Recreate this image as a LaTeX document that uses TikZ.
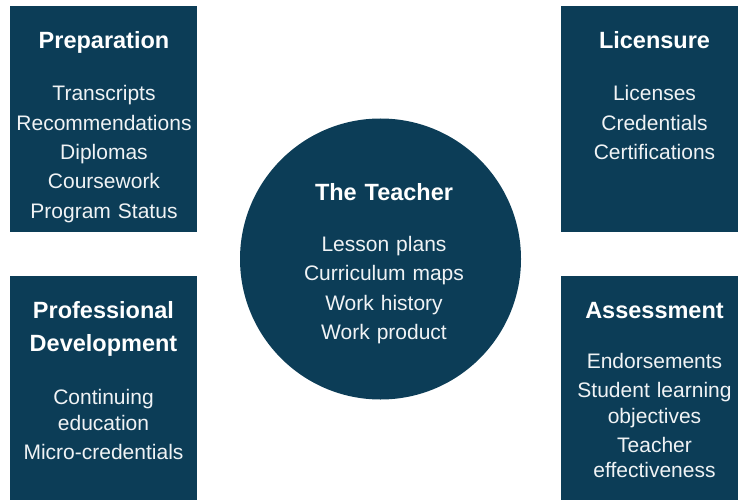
\documentclass[tikz,border=0pt]{standalone}
\usepackage{fontspec}
\setmainfont{Liberation Sans}
\definecolor{navy}{RGB}{12,61,87}

\begin{document}
\begin{tikzpicture}[x=1pt, y=1pt,
  box/.style={fill=navy, minimum width=187pt, minimum height=226pt, inner sep=0pt},
  hub/.style={circle, fill=navy, minimum size=281pt, inner sep=0pt},
  title/.style={anchor=base, text=white, text width=185pt, align=center, inner sep=0pt,
    font=\fontsize{23.5}{33}\selectfont\bfseries},
  items/.style={anchor=base, text=white!94!navy, text width=185pt, align=center, inner sep=0pt,
    font=\fontsize{21}{29.3}\selectfont}]
  \clip (0, 0) rectangle (738, 499);
  \def\lx{103.5}
  \def\rx{654.5}
  \node[box] (prep) at (\lx, 380) {};
  \node[box] (lic) at (\rx, 380) {};
  \node[box] (profdev) at (\lx, 110) {};
  \node[box] (assess) at (\rx, 110) {};
  \node[hub] (teacher) at (380.5, 240) {};
  \node[title] (prep-title) at (104, 450.5) {Preparation};
  \node[items] (prep-items) at (104, 398)
    {Transcripts\\Recommendations\\Diplomas\\Coursework\\Program Status};
  \node[title] (lic-title) at (\rx, 450.5) {Licensure};
  \node[items] (lic-items) at (\rx, 398) {Licenses\\Credentials\\Certifications};
  \node[title] (teacher-title) at (384, 298.5) {The Teacher};
  \node[items] (teacher-items) at (384, 247.5)
    {Lesson plans\\Curriculum maps\\Work history\\Work product};
  \node[title] (profdev-title) at (\lx, 181) {Professional\\Development};
  \node[items, font=\fontsize{21}{25.5}\selectfont] (profdev-items) at (\lx, 94.5)
    {Continuing\\education\\[3.5pt]Micro-credentials};
  \node[title] (assess-title) at (\rx, 181) {Assessment};
  \node[items, font=\fontsize{21}{25.5}\selectfont] (assess-items) at (\rx, 130.5)
    {Endorsements\\[3.5pt]Student learning\\objectives\\[3.5pt]Teacher\\effectiveness};
\end{tikzpicture}
\end{document}
